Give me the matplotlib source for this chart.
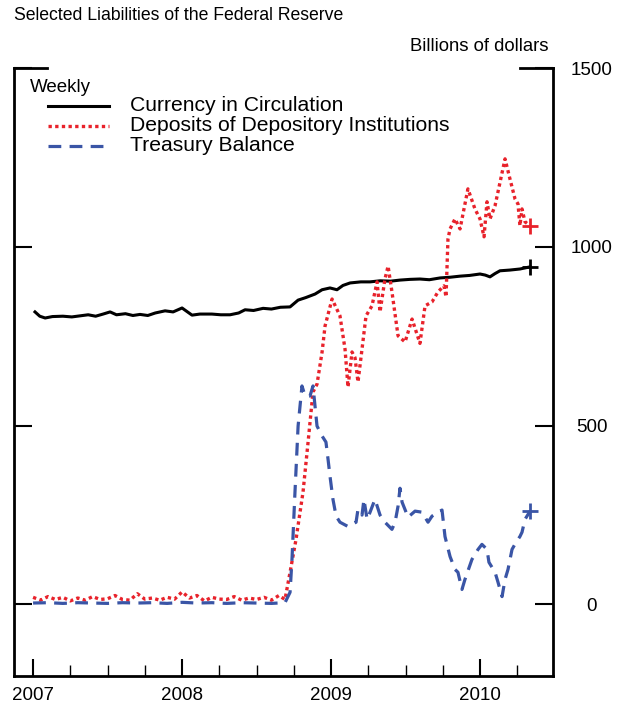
import matplotlib
matplotlib.use("Agg")
import matplotlib.pyplot as plt
import numpy as np
from matplotlib.lines import Line2D

plt.rcParams.update({
    "font.family": ["Liberation Sans", "DejaVu Sans"],
    "font.size": 11,
    "axes.linewidth": 2.0,
})

# Weekly data (decimal years, billions of dollars)
cur_t = [2007.013, 2007.045, 2007.081, 2007.13, 2007.20, 2007.26, 2007.315, 2007.37,
         2007.42, 2007.47, 2007.517, 2007.56, 2007.62, 2007.67, 2007.718, 2007.77,
         2007.82, 2007.886, 2007.94, 2008.0, 2008.03, 2008.067, 2008.12, 2008.20,
         2008.26, 2008.322, 2008.38, 2008.423, 2008.48, 2008.544, 2008.60, 2008.66,
         2008.725, 2008.779, 2008.83, 2008.893, 2008.94, 2008.993, 2009.040, 2009.08,
         2009.128, 2009.20, 2009.262, 2009.33, 2009.40, 2009.463, 2009.53, 2009.597,
         2009.66, 2009.732, 2009.80, 2009.866, 2009.93, 2010.0, 2010.035, 2010.067,
         2010.10, 2010.134, 2010.20, 2010.268, 2010.336]
cur_v = [818, 806, 801, 805, 806, 804, 807, 810,
         806, 812, 818, 810, 813, 808, 811, 808,
         815, 821, 818, 829, 820, 809, 812, 812,
         810, 810, 815, 824, 822, 828, 826, 831,
         832, 851, 858, 868, 880, 885, 880, 892,
         899, 902, 902, 905, 904, 907, 909, 910,
         908, 913, 915, 918, 920, 924, 921, 916,
         925, 933, 935, 938, 944]

dep_t = [2007.0, 2007.05, 2007.1, 2007.15, 2007.2, 2007.25, 2007.3, 2007.35, 2007.4,
         2007.45, 2007.5, 2007.55, 2007.6, 2007.65, 2007.7, 2007.75, 2007.8, 2007.85,
         2007.9, 2007.95, 2008.0, 2008.05, 2008.1, 2008.15, 2008.2, 2008.25, 2008.3,
         2008.35, 2008.4, 2008.45, 2008.5, 2008.55, 2008.6, 2008.65, 2008.691,
         2008.725, 2008.765, 2008.792, 2008.812, 2008.846, 2008.879, 2008.906, 2008.940,
         2008.960, 2009.007, 2009.060, 2009.094, 2009.114, 2009.141, 2009.161, 2009.181,
         2009.208, 2009.235, 2009.275, 2009.309, 2009.329, 2009.362, 2009.383, 2009.409,
         2009.450, 2009.497, 2009.544, 2009.597, 2009.631, 2009.678, 2009.718, 2009.758,
         2009.772, 2009.785, 2009.799, 2009.832, 2009.866, 2009.919, 2009.966, 2010.0,
         2010.027, 2010.047, 2010.067, 2010.101, 2010.168, 2010.201, 2010.235, 2010.255,
         2010.268, 2010.282, 2010.302, 2010.336]
dep_v = [20, 12, 22, 14, 20, 10, 18, 12, 22,
         14, 16, 25, 14, 12, 30, 15, 18, 12,
         20, 15, 35, 18, 25, 10, 20, 15, 14,
         22, 12, 18, 14, 20, 12, 25, 14,
         90, 182, 258, 314, 454, 594, 616, 706,
         779, 854, 807, 714, 608, 706, 690, 622,
         714, 807, 835, 902, 818, 910, 946, 874,
         751, 734, 798, 730, 835, 846, 874, 891,
         860, 1022, 1050, 1078, 1050, 1162, 1106, 1078,
         1028, 1126, 1078, 1115, 1246, 1190, 1134, 1120,
         1059, 1106, 1070, 1059]

tre_t = [2007.0, 2007.1, 2007.2, 2007.3, 2007.4, 2007.5, 2007.6, 2007.7, 2007.8,
         2007.9, 2008.0, 2008.1, 2008.2, 2008.3, 2008.4, 2008.5, 2008.6, 2008.691,
         2008.725, 2008.738, 2008.758, 2008.779, 2008.805, 2008.826, 2008.859, 2008.879,
         2008.906, 2008.940, 2008.966, 2008.980, 2008.993, 2009.013, 2009.034, 2009.060,
         2009.114, 2009.168, 2009.181, 2009.208, 2009.221, 2009.242, 2009.262, 2009.295,
         2009.329, 2009.362, 2009.409, 2009.430, 2009.450, 2009.463, 2009.477, 2009.517,
         2009.564, 2009.611, 2009.651, 2009.678, 2009.718, 2009.745, 2009.765, 2009.799,
         2009.832, 2009.852, 2009.879, 2009.899, 2009.946, 2009.987, 2010.013, 2010.047,
         2010.060, 2010.101, 2010.121, 2010.148, 2010.168, 2010.188, 2010.215, 2010.242,
         2010.268, 2010.282, 2010.302, 2010.336]
tre_v = [4, 5, 3, 5, 4, 3, 5, 4, 5,
         3, 6, 4, 5, 3, 5, 4, 3, 5,
         34, 126, 314, 499, 611, 583, 583, 611,
         499, 471, 454, 406, 359, 294, 247, 230,
         218, 230, 266, 250, 294, 238, 258, 294,
         250, 230, 210, 230, 275, 325, 286, 244,
         261, 258, 230, 247, 258, 264, 190, 134,
         98, 90, 42, 70, 126, 154, 168, 154,
         118, 90, 62, 22, 70, 98, 154, 174,
         190, 202, 238, 261]

red = "#E8222B"
blue = "#3A55A6"

fig = plt.figure(figsize=(6.22, 7.07), dpi=100)
ax = fig.add_axes([14 / 622, 1 - 676 / 707, (553 - 14) / 622, (676 - 68) / 707])

ax.plot(cur_t, cur_v, color="black", lw=2.2, solid_joinstyle="round")
ax.plot(dep_t, dep_v, color=red, lw=2.4, linestyle=(0, (1, 1.0)), dash_capstyle="butt")
ax.plot(tre_t, tre_v, color=blue, lw=2.3, linestyle=(0, (4, 2.6)))

# last values marked with a cross
for t, v, c in [(cur_t, cur_v, "black"), (dep_t, dep_v, red), (tre_t, tre_v, blue)]:
    ax.plot(t[-1], v[-1], marker="+", ms=11, mew=2, color=c)

ax.set_xlim(2006.872, 2010.49)
ax.set_ylim(-200, 1500)
ax.spines["top"].set_visible(False)

ax.set_xticks([2007, 2008, 2009, 2010])
ax.set_xticklabels(["2007", "2008", "2009", "2010"])
ax.set_xticks([q for q in np.arange(2007, 2010.3, 0.25) if q % 1 != 0], minor=True)
ax.tick_params(axis="x", which="major", direction="in", length=12, width=1.5, pad=8, labelsize=13.5)
ax.tick_params(axis="x", which="minor", direction="in", length=8, width=1.0)

ax.set_yticks([0, 500, 1000, 1500])
ax.tick_params(axis="y", which="major", direction="in", left=True, right=True,
               labelleft=False, labelright=True, length=13, width=1.5, pad=28, labelsize=13.5)
for lbl in ax.get_yticklabels():
    lbl.set_horizontalalignment("center")

# longer marks at the top of both axes
ax.plot([0, 0.062], [1, 1], transform=ax.transAxes, color="black", lw=2, clip_on=False)
ax.plot([0.938, 1], [1, 1], transform=ax.transAxes, color="black", lw=2, clip_on=False)

fig.text(14 / 622, 1 - 7 / 707, "Selected Liabilities of the Federal Reserve",
         fontsize=12.7, ha="left", va="top")
fig.text(549 / 622, 1 - 38 / 707, "Billions of dollars", fontsize=13.3, ha="right", va="top")

# legend
fig.text(30 / 622, 1 - 88 / 707, "Weekly", fontsize=13.5, va="center")
legend_rows = [("Currency in Circulation", dict(color="black", lw=2.2)),
               ("Deposits of Depository Institutions", dict(color=red, lw=2.4, linestyle=(0, (1, 1.0)))),
               ("Treasury Balance", dict(color=blue, lw=2.3, linestyle=(0, (4, 2.6))))]
for i, (name, style) in enumerate(legend_rows):
    y = 1 - (105.5 + 20 * i) / 707
    fig.add_artist(Line2D([48 / 622, 109 / 622], [y, y], transform=fig.transFigure, **style))
    fig.text(130 / 622, y, name, fontsize=15.2, va="center")

fig.savefig("out.png", dpi=100)
